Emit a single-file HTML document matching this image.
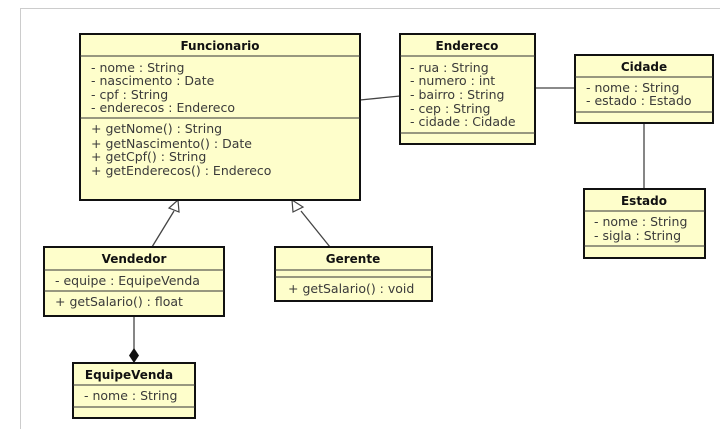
<!DOCTYPE html>
<html><head><meta charset="utf-8"><style>
body{margin:0;background:#fff;}
svg text{font-family:"DejaVu Sans","Liberation Sans",sans-serif;font-size:12.5px;fill:#3a3a3a;}
svg text.t{font-weight:bold;font-size:12px;fill:#111;text-anchor:middle;}
</style></head><body>
<svg width="720" height="429" xmlns="http://www.w3.org/2000/svg">
<rect width="720" height="429" fill="#fff"/>
<line x1="20" y1="8.5" x2="720" y2="8.5" stroke="#ccc"/>
<line x1="20.5" y1="8" x2="20.5" y2="429" stroke="#ccc"/>
<g stroke="#444" stroke-width="1.3" fill="none">
<line x1="360" y1="100" x2="400" y2="96"/>
<line x1="535" y1="88" x2="575" y2="88"/>
<line x1="644" y1="123" x2="644" y2="189"/>
<line x1="152" y1="247" x2="174" y2="211"/>
<line x1="330" y1="247" x2="301" y2="211"/>
<line x1="134" y1="316" x2="134" y2="350"/>
</g>
<polygon points="178,200 169,208 179,212" fill="#fff" stroke="#444" stroke-width="1.2"/>
<polygon points="292,200 293,212 303,207" fill="#fff" stroke="#444" stroke-width="1.2"/>
<polygon points="134,348 139,355.5 134,363 129,355.5" fill="#111"/>
<g fill="#fefecb" stroke="#111" stroke-width="2">
<rect x="80" y="34" width="280" height="166"/>
<rect x="400" y="34" width="135" height="110"/>
<rect x="575" y="55" width="138" height="68"/>
<rect x="584" y="189" width="121" height="69"/>
<rect x="44" y="247" width="180" height="69"/>
<rect x="275" y="247" width="157" height="54"/>
<rect x="73" y="363" width="122" height="55"/>
</g>
<g stroke="#333" stroke-width="1">
<line x1="80" y1="56" x2="360" y2="56"/><line x1="80" y1="118" x2="360" y2="118"/>
<line x1="400" y1="56" x2="535" y2="56"/><line x1="400" y1="133" x2="535" y2="133"/>
<line x1="575" y1="77" x2="713" y2="77"/><line x1="575" y1="112" x2="713" y2="112"/>
<line x1="584" y1="211" x2="705" y2="211"/><line x1="584" y1="246" x2="705" y2="246"/>
<line x1="44" y1="270" x2="224" y2="270"/><line x1="44" y1="291" x2="224" y2="291"/>
<line x1="275" y1="270" x2="432" y2="270"/><line x1="275" y1="277" x2="432" y2="277"/>
<line x1="73" y1="385" x2="195" y2="385"/><line x1="73" y1="407" x2="195" y2="407"/>
</g>
<text class="t" x="220" y="50">Funcionario</text>
<text x="91" y="72">- nome : String</text>
<text x="91" y="85">- nascimento : Date</text>
<text x="91" y="99">- cpf : String</text>
<text x="91" y="112">- enderecos : Endereco</text>
<text x="91" y="133">+ getNome() : String</text>
<text x="91" y="148">+ getNascimento() : Date</text>
<text x="91" y="161">+ getCpf() : String</text>
<text x="91" y="175">+ getEnderecos() : Endereco</text>
<text class="t" x="467" y="50">Endereco</text>
<text x="410" y="72">- rua : String</text>
<text x="410" y="85">- numero : int</text>
<text x="410" y="99">- bairro : String</text>
<text x="410" y="113">- cep : String</text>
<text x="410" y="126">- cidade : Cidade</text>
<text class="t" x="644" y="71">Cidade</text>
<text x="586" y="92">- nome : String</text>
<text x="586" y="105">- estado : Estado</text>
<text class="t" x="644" y="205">Estado</text>
<text x="594" y="226">- nome : String</text>
<text x="594" y="240">- sigla : String</text>
<text class="t" x="134" y="263">Vendedor</text>
<text x="55" y="285">- equipe : EquipeVenda</text>
<text x="55" y="306">+ getSalario() : float</text>
<text class="t" x="353" y="263">Gerente</text>
<text x="288" y="293">+ getSalario() : void</text>
<text class="t" x="129" y="379">EquipeVenda</text>
<text x="84" y="400">- nome : String</text>
</svg>
</body></html>
